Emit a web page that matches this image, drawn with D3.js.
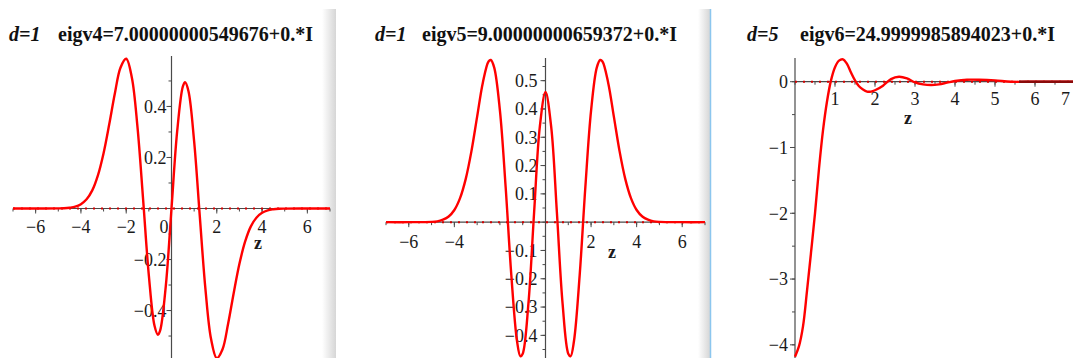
<!DOCTYPE html>
<html><head><meta charset="utf-8">
<script src="https://cdn.jsdelivr.net/npm/d3@7"></script>
<style>html,body{margin:0;padding:0;background:#fff;overflow:hidden}</style>
</head><body>
<svg id="c" width="1073" height="358"></svg>
<script>
// ---------- data ----------
const titleD = ["d=1", "d=1", "d=5"];
const titleEig = ["eigv4=7.00000000549676+0.*I", "eigv5=9.00000000659372+0.*I", "eigv6=24.9999985894023+0.*I"];

const eig4Z = [-7,-6,-5,-4.75,-4.5,-4.25,-4,-3.75,-3.5,-3.25,-3,-2.75,-2.5,-2.25,-2,-1.75,-1.5,-1.25,-1,-0.75,-0.6,-0.5,-0.25,0,0.25,0.5,0.6,0.75,1,1.25,1.5,1.75,2,2.25,2.5,2.75,3,3.25,3.5,3.75,4,4.25,4.5,4.75,5,6,7];
const eig4Values = [0,0,0.0004,0.001,0.003,0.007,0.017,0.036,0.071,0.130,0.217,0.330,0.452,0.553,0.587,0.513,0.317,0.031,-0.263,-0.460,-0.495,-0.478,-0.302,0,0.302,0.478,0.495,0.460,0.263,-0.031,-0.317,-0.513,-0.587,-0.553,-0.452,-0.330,-0.217,-0.130,-0.071,-0.036,-0.017,-0.007,-0.003,-0.001,-0.0004,0,0];

const eig5Z = [-7,-6,-5,-4.75,-4.5,-4.25,-4,-3.75,-3.5,-3.25,-3,-2.75,-2.5,-2.4,-2.25,-2,-1.75,-1.5,-1.25,-1.1,-1,-0.75,-0.5,-0.25,0,0.25,0.5,0.75,1,1.1,1.25,1.5,1.75,2,2.25,2.4,2.5,2.75,3,3.25,3.5,3.75,4,4.25,4.5,4.75,5,6,7];
const eig5Values = [0,0,0.001,0.003,0.009,0.020,0.043,0.085,0.153,0.251,0.373,0.493,0.568,0.573,0.546,0.394,0.125,-0.187,-0.420,-0.474,-0.465,-0.288,0.034,0.337,0.460,0.337,0.034,-0.288,-0.465,-0.474,-0.420,-0.187,0.125,0.394,0.546,0.573,0.568,0.493,0.373,0.251,0.153,0.085,0.043,0.020,0.009,0.003,0.001,0,0];

const eig6Z = [0,0.1,0.2,0.3,0.4,0.5,0.6,0.7,0.8,0.9,1.0,1.1,1.2,1.3,1.4,1.5,1.6,1.7,1.8,1.9,2.0,2.2,2.4,2.6,2.8,3.0,3.2,3.4,3.6,3.8,4.0,4.3,4.6,5.0,5.4,6.0,7.0];
const eig6Values = [-4.18,-4.02,-3.72,-3.18,-2.6,-2.0,-1.32,-0.74,-0.3,0.02,0.22,0.32,0.34,0.27,0.14,0.02,-0.07,-0.12,-0.15,-0.15,-0.13,-0.06,0.04,0.075,0.05,-0.01,-0.04,-0.05,-0.04,-0.015,0.01,0.03,0.03,0.02,0,0,0];

const p1XTicks = [-6,-4,-2,0,2,4,6];
const p1YTicks = [-0.4,-0.2,0.2,0.4];
const p2XTicks = [-6,-4,2,4,6];
const p2YTicks = [-0.4,-0.3,-0.2,-0.1,0.1,0.2,0.3,0.4,0.5];
const p3XTicks = [1,2,3,4,5,6,7];
const p3YTicks = [0,-1,-2,-3,-4];

// ---------- layout ----------
const svg = d3.select("#c");
const FONT = "'Liberation Serif','Times New Roman',serif";

// panel separators
const defs = svg.append("defs");
const g1 = defs.append("linearGradient").attr("id","sh").attr("x1","0").attr("x2","1");
g1.append("stop").attr("offset","0").attr("stop-color","#fff");
g1.append("stop").attr("offset","1").attr("stop-color","#d6d6d6");
svg.append("rect").attr("x",322).attr("y",9).attr("width",14).attr("height",349).attr("fill","url(#sh)");
svg.append("rect").attr("x",698).attr("y",9).attr("width",12).attr("height",349).attr("fill","url(#sh)");
svg.append("line").attr("x1",710.5).attr("x2",710.5).attr("y1",9).attr("y2",358).attr("stroke","#8cc6ee").attr("stroke-width",1.5);

const fmt = v => (v < 0 ? "\u2212" : "") + String(Math.abs(v));

function panel(cfg) {
  const x = d3.scaleLinear().domain(cfg.xDomain).range(cfg.xRange);
  const y = d3.scaleLinear().domain(cfg.yDomain).range(cfg.yRange);
  const g = svg.append("g");
  const x0 = x(0), y0 = y(0);
  const axisCol = "#4a4a4a";
  g.append("line").attr("x1",cfg.xRange[0]).attr("x2",cfg.xRange[1]).attr("y1",y0).attr("y2",y0)
    .attr("stroke",axisCol).attr("stroke-width",1.2);
  g.append("line").attr("x1",x0).attr("x2",x0).attr("y1",cfg.yRange[1]-2).attr("y2",cfg.yRange[0])
    .attr("stroke",axisCol).attr("stroke-width",1.2);
  const xm = d3.range(Math.ceil(cfg.xDomain[0]/cfg.xMinor), Math.floor(cfg.xDomain[1]/cfg.xMinor)+1).map(k=>k*cfg.xMinor);
  g.selectAll(null).data(xm).join("line")
    .attr("x1",d=>x(d)).attr("x2",d=>x(d)).attr("y1",y0).attr("y2",y0+3)
    .attr("stroke",axisCol).attr("stroke-width",1);
  const ym = d3.range(Math.ceil(cfg.yDomain[0]/cfg.yMinor), Math.floor(cfg.yDomain[1]/cfg.yMinor)+1).map(k=>k*cfg.yMinor);
  g.selectAll(null).data(ym).join("line")
    .attr("x1",x0-3).attr("x2",x0).attr("y1",d=>y(d)).attr("y2",d=>y(d))
    .attr("stroke",axisCol).attr("stroke-width",1);
  g.selectAll(null).data(cfg.xTicks).join("line")
    .attr("x1",d=>x(d)).attr("x2",d=>x(d)).attr("y1",y0).attr("y2",y0+5)
    .attr("stroke",axisCol).attr("stroke-width",1);
  g.selectAll(null).data(cfg.yTicks).join("line")
    .attr("x1",x0-5).attr("x2",x0).attr("y1",d=>y(d)).attr("y2",d=>y(d))
    .attr("stroke",axisCol).attr("stroke-width",1);
  g.selectAll(null).data(cfg.xTicks).join("text")
    .attr("x",d=> d===0 ? x(d)-3 : Math.min(x(d)+ (x(d)>1066?0:0), 1073))
    .attr("y",y0+cfg.xLabelDy)
    .attr("text-anchor",d=> d===0 ? "end" : (x(d)+5>1073 ? "end" : "middle"))
    .attr("dx",d=> (x(d)+5>1073 ? 1073-x(d)-1 : 0))
    .attr("font-family",FONT).attr("font-size",cfg.fs).attr("fill","#1a1a1a")
    .text(fmt);
  g.selectAll(null).data(cfg.yTicks).join("text")
    .attr("x",x0-cfg.yLabelDx).attr("y",d=>y(d)).attr("dy","0.35em")
    .attr("text-anchor","end")
    .attr("font-family",FONT).attr("font-size",cfg.fs).attr("fill","#1a1a1a")
    .text(fmt);
  g.append("text").attr("x",cfg.zLab[0]).attr("y",cfg.zLab[1]).attr("text-anchor","middle")
    .attr("font-family",FONT).attr("font-size",cfg.fs).attr("font-weight","bold").attr("fill","#1a1a1a").text("z");
  g.append("line").attr("x1",cfg.xRange[0]).attr("x2",cfg.xRange[1]).attr("y1",y0).attr("y2",y0)
    .attr("stroke","#d00000").attr("stroke-width",2).attr("stroke-dasharray","2,6");
  const line = d3.line().x(d=>x(d[0])).y(d=>y(d[1])).curve(d3.curveCatmullRom.alpha(0.5));
  g.append("path").datum(cfg.z.map((z,i)=>[z,cfg.v[i]]))
    .attr("d",line).attr("fill","none").attr("stroke","#ff0000").attr("stroke-width",2.4)
    .attr("stroke-linejoin","round");
  if (cfg.darkTailFrom !== undefined) {
    g.append("line").attr("x1",x(cfg.darkTailFrom)).attr("x2",cfg.xRange[1]).attr("y1",y0).attr("y2",y0)
      .attr("stroke","#8a0a0a").attr("stroke-width",2.4);
  }
  const t = svg.append("text").attr("y",41).attr("font-family",FONT).attr("font-size",20).attr("font-weight","bold").attr("fill","#111");
  t.append("tspan").attr("x",cfg.titleX[0]).attr("font-style","italic").text(cfg.tD);
  t.append("tspan").attr("x",cfg.titleX[1]).text(cfg.tE);
}

panel({xDomain:[-7,7], xRange:[13,330], yDomain:[-0.59,0.59], yRange:[359,58],
  z:eig4Z, v:eig4Values, xTicks:p1XTicks, xMinor:1, yTicks:p1YTicks, yMinor:0.1,
  xLabelDy:24, yLabelDx:5, fs:18, zLab:[258,249], titleX:[9,58], tD:titleD[0], tE:titleEig[0]});
panel({xDomain:[-7,7], xRange:[386,705], yDomain:[-0.48,0.573], yRange:[358,60],
  z:eig5Z, v:eig5Values, xTicks:p2XTicks, xMinor:1, yTicks:p2YTicks, yMinor:0.05,
  xLabelDy:26, yLabelDx:8, fs:18, zLab:[612,258], titleX:[375,422], tD:titleD[1], tE:titleEig[1]});
panel({xDomain:[0,7], xRange:[795,1075], yDomain:[-4.2,0.33], yRange:[358,60],
  z:eig6Z, v:eig6Values, xTicks:p3XTicks, xMinor:0.5, yTicks:p3YTicks, yMinor:0.5,
  xLabelDy:23, yLabelDx:7, fs:18, zLab:[908,124], titleX:[747,800], tD:titleD[2], tE:titleEig[2],
  darkTailFrom:5.6});
</script>
</body></html>
